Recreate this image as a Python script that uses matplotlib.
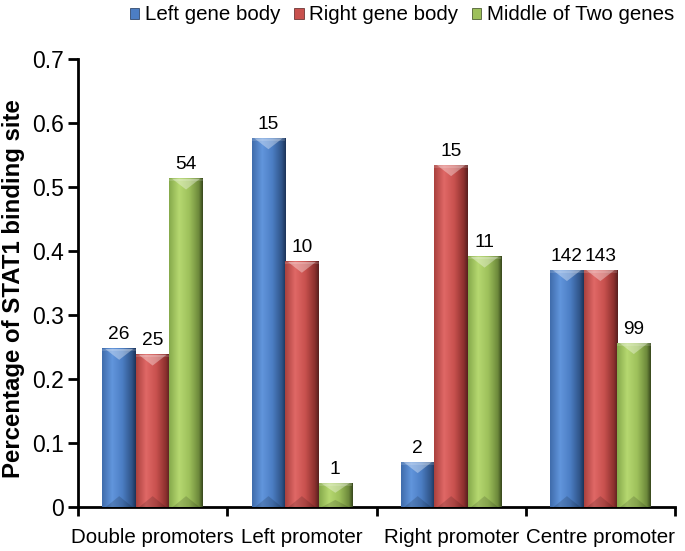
import numpy as np
import matplotlib.pyplot as plt
from matplotlib.colors import LinearSegmentedColormap
from matplotlib.patches import Polygon, Patch

plt.rcParams['font.family'] = ['Liberation Sans', 'DejaVu Sans']

categories = ["Double promoters", "Left promoter", "Right promoter", "Centre promoter"]
series = ["Left gene body", "Right gene body", "Middle of Two genes"]

left_gene = [0.247, 0.576, 0.070, 0.370]
right_gene = [0.238, 0.383, 0.534, 0.370]
middle_genes = [0.513, 0.037, 0.391, 0.256]

left_counts = [26, 15, 2, 142]
right_counts = [25, 10, 15, 143]
middle_counts = [54, 1, 11, 99]

yticks = [0, 0.1, 0.2, 0.3, 0.4, 0.5, 0.6, 0.7]
ytick_labels = ["0", "0.1", "0.2", "0.3", "0.4", "0.5", "0.6", "0.7"]

base_colors = ["#4f81bd", "#c0504d", "#9bbb59"]
# left edge -> highlight -> body -> shadow -> dark right edge
shades = [
    ["#3f6cab", "#6195dc", "#4c7ec4", "#2f5488", "#1c3357"],
    ["#a9413e", "#e06866", "#c8514e", "#8c302e", "#56201f"],
    ["#85a94b", "#b6d870", "#9dc05b", "#6d893b", "#36461c"],
]

fig = plt.figure(figsize=(6.85, 5.51), dpi=100)
ax = fig.add_axes([78 / 685, 1 - 507 / 551, 597 / 685, 448 / 551])

x = np.arange(len(categories)) + 0.5
w = 0.224
data = [left_gene, right_gene, middle_genes]
counts = [left_counts, right_counts, middle_counts]
grad = np.linspace(0, 1, 256).reshape(1, -1)

for i in range(3):
    bars = ax.bar(x + (i - 1) * w, data[i], w, color=base_colors[i], zorder=2, linewidth=0)
    cmap = LinearSegmentedColormap.from_list("s%d" % i, [(0, shades[i][0]), (0.3, shades[i][1]),
                                                         (0.6, shades[i][2]), (0.88, shades[i][3]),
                                                         (1, shades[i][4])])
    for b in bars:
        x0 = b.get_x()
        x1 = x0 + b.get_width()
        h = b.get_height()
        ax.imshow(grad, cmap=cmap, extent=[x0, x1, 0, h], aspect='auto', zorder=3)
        d = min(0.017, h * 0.4)
        xc = (x0 + x1) / 2
        ax.add_patch(Polygon([(x0 + 0.08 * (x1 - x0), h), (x1 - 0.08 * (x1 - x0), h), (xc, h - d)],
                             closed=True, facecolor="white", alpha=0.35, linewidth=0, zorder=4))
        ax.add_patch(Polygon([(x0, h), (x1, h), (x1, h - 0.004), (x0, h - 0.004)],
                             closed=True, facecolor="white", alpha=0.15, linewidth=0, zorder=4))
        ax.add_patch(Polygon([(x0 + 0.1 * (x1 - x0), 0), (x1 - 0.1 * (x1 - x0), 0), (xc, min(d, h * 0.3))],
                             closed=True, facecolor="black", alpha=0.15, linewidth=0, zorder=4))
    ax.bar_label(bars, labels=[str(c) for c in counts[i]], padding=4, fontsize=13.8)

ax.set_xlim(0, 4)
ax.set_ylim(0, 0.7)

ax.spines['top'].set_visible(False)
ax.spines['right'].set_visible(False)
ax.spines['left'].set_linewidth(2)
ax.spines['bottom'].set_linewidth(2)

ax.set_yticks(yticks)
ax.set_yticklabels(ytick_labels, fontsize=16.5)
ax.tick_params(axis='y', direction='out', length=7, width=2, pad=3)

ax.set_xticks([0, 1, 2, 3, 4])
ax.set_xticklabels([])
ax.set_xticks(x, minor=True)
ax.set_xticklabels(categories, minor=True, fontsize=14.8)
ax.tick_params(axis='x', which='major', direction='out', length=6.5, width=2)
ax.tick_params(axis='x', which='minor', length=0, pad=15)

fig.text(14 / 685, 1 - 289 / 551, "Percentage of STAT1 binding site", rotation=90,
         ha='center', va='center', fontsize=17.3, fontweight='bold')

handles = [Patch(facecolor=shades[i][2], edgecolor=shades[i][4], linewidth=0.5) for i in range(3)]
fig.legend(handles, series, loc='center', bbox_to_anchor=(402 / 685, 1 - 15 / 551), ncol=3,
           frameon=False, fontsize=14.8, handlelength=0.45, handleheight=0.45,
           handletextpad=0.25, columnspacing=0.7, borderpad=0, borderaxespad=0)

fig.savefig("out.png", dpi=100)
